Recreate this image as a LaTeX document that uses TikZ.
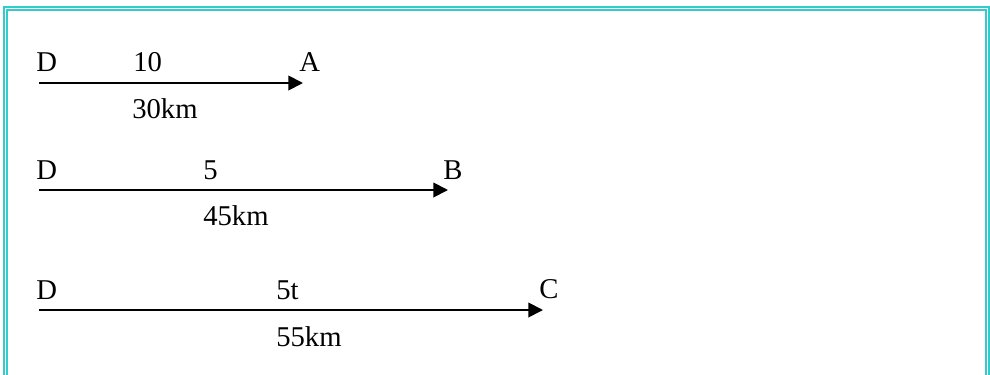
\documentclass[tikz,border=0pt]{standalone}
\usepackage{fontspec}
\setmainfont{Liberation Serif}
\definecolor{BorderColor}{RGB}{51,204,204}
\usetikzlibrary{arrows.meta}

\tikzset{
  label text/.style={anchor=base west, inner sep=0pt, font=\fontsize{21.5}{24}\selectfont},
  route/.style={line width=1.4pt, -{Triangle[length=11pt, width=11pt]}},
  frame line/.style={BorderColor, line width=1.7pt}
}

\begin{document}
\begin{tikzpicture}[x=0.75pt, y=-0.75pt]
  \useasboundingbox (0,0) rectangle (990,375);
  % double frame, open at the bottom
  \draw[frame line] (4.3,380) -- (4.3,7) -- (989,7) -- (989,380);
  \draw[frame line] (7.3,380) -- (7.3,10) -- (986,10) -- (986,380);

  % D to A
  \node[label text] (DA) at (36,71) {D};
  \node[label text] (DAtime) at (133,71) {10};
  \node[label text] (A) at (299,71) {A};
  \node[label text] (DAdist) at (132,118) {30km};
  \coordinate (DAstart) at (39,83);
  \coordinate (DAend) at (303,83);
  \draw[route] (DAstart) -- (DAend);

  % D to B
  \node[label text] (DB) at (36,179) {D};
  \node[label text] (DBtime) at (203,179) {5};
  \node[label text] (B) at (443,179) {B};
  \node[label text] (DBdist) at (203,225) {45km};
  \coordinate (DBstart) at (39,190);
  \coordinate (DBend) at (448,190);
  \draw[route] (DBstart) -- (DBend);

  % D to C
  \node[label text] (DC) at (36,299) {D};
  \node[label text] (DCtime) at (276,299) {5t};
  \node[label text] (C) at (539,298) {C};
  \node[label text] (DCdist) at (276,346) {55km};
  \coordinate (DCstart) at (39,310);
  \coordinate (DCend) at (543,310);
  \draw[route] (DCstart) -- (DCend);
\end{tikzpicture}
\end{document}
